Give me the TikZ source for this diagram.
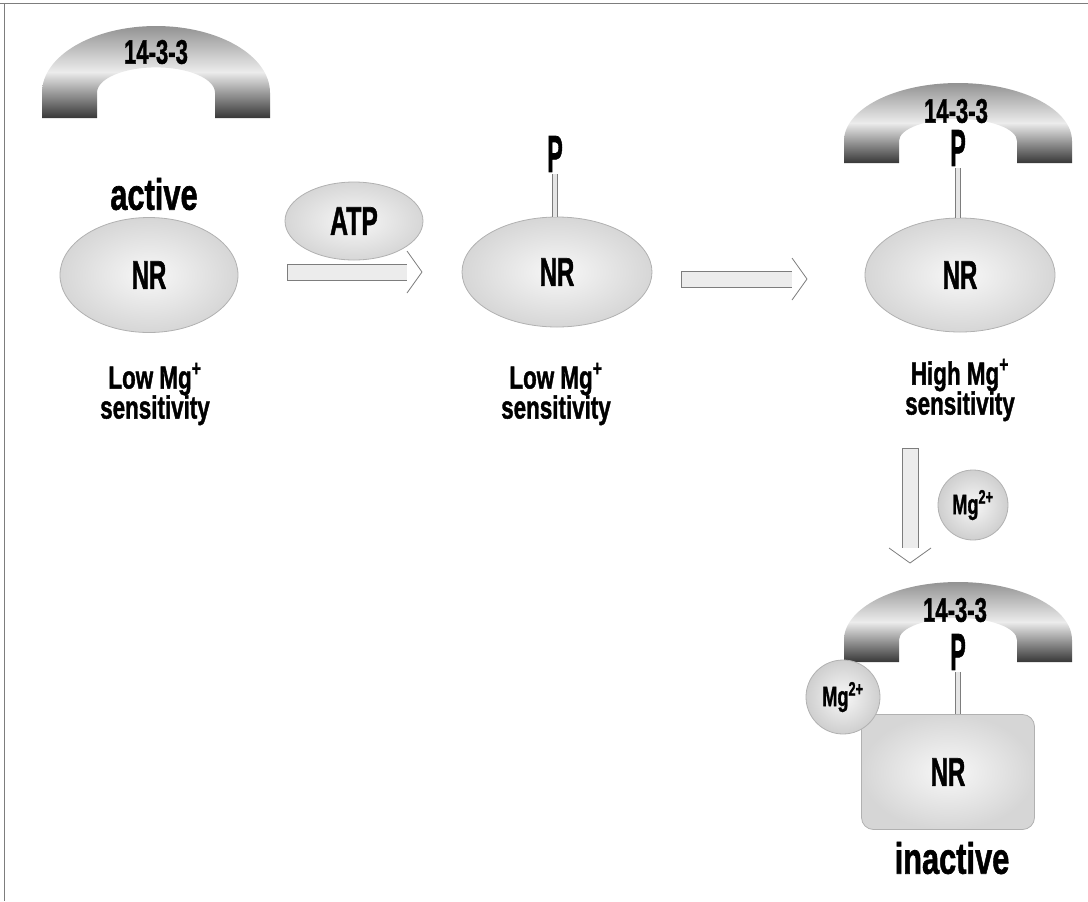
\documentclass[tikz,border=0pt]{standalone}
\usepackage{fontspec}
\setmainfont{Liberation Sans}[BoldFeatures={FakeBold=1.5}]
\usetikzlibrary{arrows.meta,calc,positioning,shapes.geometric}
\definecolor{DotGray}{RGB}{205,205,205}
\definecolor{EdgeGray}{RGB}{125,125,125}
\definecolor{RingDark}{RGB}{55,55,55}
\newcommand{\sq}[2][.65]{\scalebox{#1}[1]{\bfseries #2}}
\tikzset{
  ring/.pic={\path[top color=gray!85,bottom color=RingDark,middle color=gray!15]
    (-114,0) -- (-114,-22) arc[start angle=180,end angle=360,x radius=114,y radius=58]
    -- (114,0) -- (59,0) -- (59,-22) arc[start angle=0,end angle=-180,x radius=59,y radius=22]
    -- (-59,0) -- cycle;},
  pics/fatarr/.style={code={
    \filldraw[fill=gray!15,draw=EdgeGray] (0,-8) rectangle (#1-15,8);
    \draw[EdgeGray,fill=white] (#1-15,-21) .. controls (#1-7,-11) .. (#1,0) .. controls (#1-7,11) .. (#1-15,21);}}
}
\begin{document}
\begin{tikzpicture}[x=.5pt,y=-.5pt,
  prot/.style={ellipse,inner color=gray!6,outer color=gray!32,draw=EdgeGray!60,thin,inner sep=0pt},
  ion/.style={circle,inner color=gray!6,outer color=gray!38,draw=EdgeGray!60,thin,inner sep=0pt},
  stem/.style={draw=EdgeGray,double=gray!20,double distance=2pt,line width=.5pt},
  nr/.style={font=\fontsize{20}{22}\selectfont},
  big/.style={font=\fontsize{22}{24}\selectfont},
  lab/.style={font=\fontsize{16}{15}\selectfont,align=center},
  phos/.style={font=\fontsize{26}{28}\selectfont,inner sep=1pt},
  tag/.style={font=\fontsize{17}{19}\selectfont,inner sep=1pt},
  mg/.style={font=\fontsize{14}{16}\selectfont}]
\useasboundingbox (0,0) rectangle (1088,901);
\draw[EdgeGray] (0,3) -- (1088,3);
\draw[EdgeGray] (4,3) -- (4,901);
% rings
\pic[yscale=1.15] at (156,118) {ring};
\pic at (958,163) {ring};
\pic at (958,662) {ring};
\node[tag] (r1) at (156,52) {\sq{14-3-3}};
\node[tag] (r3) at (956,111) {\sq{14-3-3}};
\node[tag] (r4) at (955,610) {\sq{14-3-3}};
% first column
\node[big] (act) at (154,194) {\sq[.7]{active}};
\node[prot,minimum width=89pt,minimum height=57.5pt,nr] (nr1) at (149,275) {\sq[.6]{NR}};
\node[lab] (t1) at (155,394) {\sq[.7]{Low Mg\textsuperscript{+}}\\\sq[.7]{sensitivity}};
% ATP and arrows
\node[prot,minimum width=69pt,minimum height=39pt,nr] (atp) at (354,221) {\sq[.62]{ATP}};
\coordinate (a1) at (287,272);
\coordinate (a2) at (681,279);
\coordinate (a3) at (910,448);
\pic at (a1) {fatarr=135};
\pic at (a2) {fatarr=126};
\pic[rotate=-90] at (a3) {fatarr=115};
% second column
\node[phos] (p2) at (555,154) {\sq[.45]{P}};
\node[prot,minimum width=95pt,minimum height=55pt,nr] (nr2) at (557,272) {\sq[.6]{NR}};
\draw[stem] (p2.south) -- (p2.south |- nr2.north);
\node[lab] (t2) at (556,394) {\sq[.7]{Low Mg\textsuperscript{+}}\\\sq[.7]{sensitivity}};
% third column
\node[phos] (p3) at (958,148) {\sq[.45]{P}};
\node[prot,minimum width=95pt,minimum height=57pt,nr] (nr3) at (960,275) {\sq[.6]{NR}};
\draw[stem] (p3.south) -- (p3.south |- nr3.north);
\node[lab] (t3) at (960,390) {\sq[.7]{High Mg\textsuperscript{+}}\\\sq[.7]{sensitivity}};
\node[ion,minimum size=35pt,mg] (mg1) at (973,505) {\sq{Mg\textsuperscript{2+}}};
% inactive complex
\node[phos] (p4) at (958,652) {\sq[.45]{P}};
\node[draw=EdgeGray!60,thin,rounded corners=6pt,inner color=gray!6,outer color=gray!32,
  minimum width=86.5pt,minimum height=57.5pt,nr] (nr4) at (948,772) {\sq[.6]{NR}};
\draw[stem] (p4.south) -- (p4.south |- nr4.north);
\node[ion,minimum size=37pt,mg] (mg2) at (843,697) {\sq{Mg\textsuperscript{2+}}};
\node[big] (inact) at (952,858) {\sq[.7]{inactive}};
\end{tikzpicture}
\end{document}
